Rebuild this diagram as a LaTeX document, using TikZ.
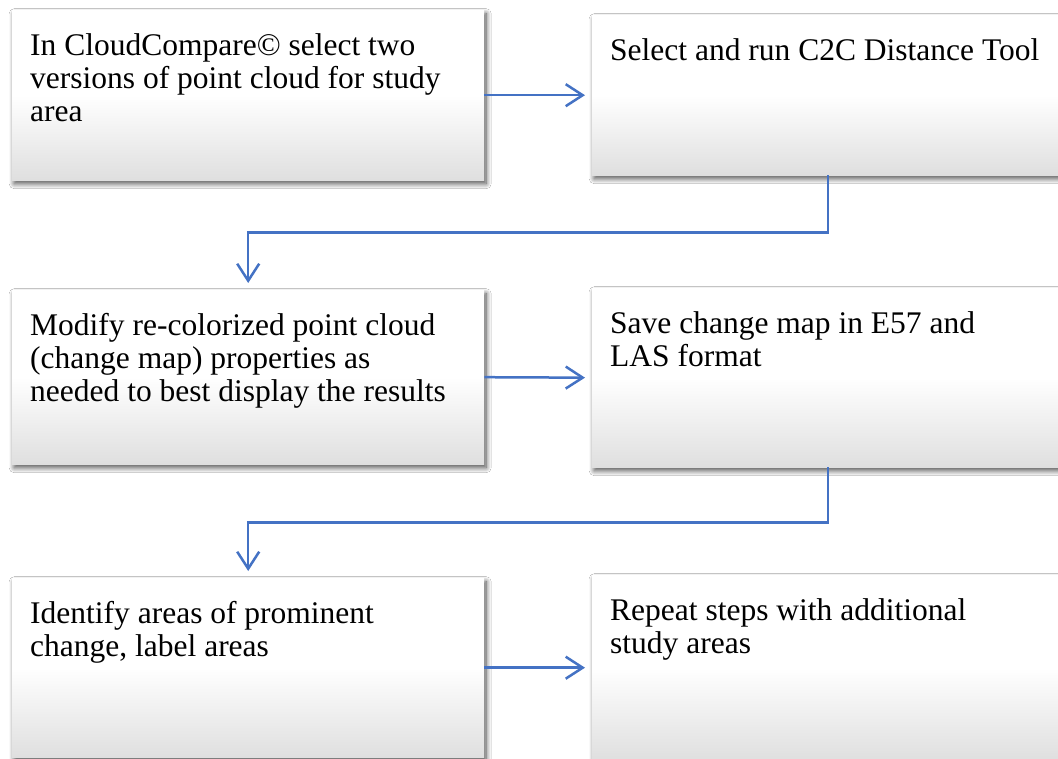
\documentclass[tikz,border=0pt]{standalone}
\usepackage{fontspec}
\setmainfont{Liberation Serif}
\usetikzlibrary{arrows.meta,shadows.blur,calc}
\definecolor{flowblue}{HTML}{4472C4}
\definecolor{boxgrey}{HTML}{DFDFDF}
% box text: first baseline 45pt below the top edge, box height #1
\newcommand{\steptext}[2]{\parbox[t][#1][t]{436pt}{\raggedright\rule{0pt}{45pt}#2}}
\tikzset{
  stepbox/.style={rectangle, anchor=north west, inner xsep=18pt, inner ysep=0pt,
    minimum width=472pt, top color=white, bottom color=boxgrey, middle color=white,
    draw=none,
    blur shadow={shadow xshift=2pt, shadow yshift=-3.5pt, shadow blur radius=5pt,
      shadow blur steps=12, shadow opacity=70},
    font=\fontsize{31.5pt}{33pt}\selectfont},
  conn/.style={draw=flowblue, line width=2.5pt, shorten >=7pt,
    -{Straight Barb[length=17pt, width=22pt, line width=2.5pt]}}
}
\begin{document}
\begin{tikzpicture}[x=1pt,y=-1pt]
\useasboundingbox[fill=white] (0,0) rectangle (1058,759);

\node[stepbox] (b1) at (12,10)  {\steptext{170pt}{In CloudCompare© select two\\versions of point cloud for study\\area}};
\node[stepbox] (b2) at (592,15) {\steptext{160pt}{Select and run C2C Distance Tool}};
\node[stepbox] (b3) at (12,290) {\steptext{174pt}{Modify re-colorized point cloud\\(change map) properties as\\needed to best display the results}};
\node[stepbox] (b4) at (592,288) {\steptext{179pt}{Save change map in E57 and\\LAS format}};
\node[stepbox] (b5) at (12,578) {\steptext{179pt}{Identify areas of prominent\\change, label areas}};
\node[stepbox] (b6) at (592,575) {\steptext{185pt}{Repeat steps with additional\\study areas}};

\draw[conn] (b1.east) -- (b2.west);
\draw[conn] (b2.south) |- ($(b2.south)!0.5!(b3.north)$) -| (b3.north);
\draw[conn] (b3.east) -- (b4.west);
\draw[conn] (b4.south) |- ($(b4.south)!0.5!(b5.north)$) -| (b5.north);
\draw[conn] (b5.east) -- (b6.west);
\end{tikzpicture}
\end{document}
